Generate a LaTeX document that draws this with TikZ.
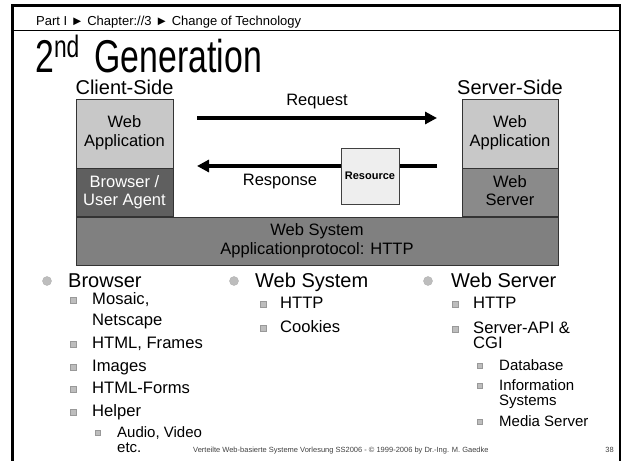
\documentclass[tikz,border=0pt]{standalone}
\usepackage{fontspec}
\setmainfont{Liberation Sans}
\usepackage{graphicx}
\usetikzlibrary{positioning,arrows.meta,backgrounds}

\begin{document}
\begin{tikzpicture}[x=1pt, y=1pt]
      \definecolor{applight}{HTML}{C8C8C8}
      \definecolor{agentdark}{HTML}{5F5F5F}
      \definecolor{servermid}{HTML}{8A8A8A}
      \definecolor{systemmid}{HTML}{808080}
      \definecolor{resourcelight}{HTML}{EEEEEE}
      \definecolor{bulletgray}{HTML}{BDBDBD}
      \definecolor{footgray}{HTML}{404040}

      \newcommand{\layername}[1]{\fontsize{16.5}{18.5}\selectfont \begin{tabular}{c}#1\end{tabular}}
      \newcommand{\itemlines}[1]{\vtop{\halign{##\hfil\cr#1\crcr}}}

      \tikzstyle{layer}     = [rectangle, draw=black!80, line width=0.6pt, inner sep=0pt, minimum width=97pt, minimum height=48pt]
      \tikzstyle{connector} = [line width=3.6pt, -{Triangle[length=12pt, width=12pt]}]
      \tikzstyle{side}      = [inner sep=0pt, font=\fontsize{20}{20}\selectfont]
      \tikzstyle{topic}     = [anchor=base west, inner sep=0pt, font=\fontsize{20}{20}\selectfont]
      \tikzstyle{entry}     = [anchor=base west, inner sep=0pt, font=\fontsize{16.6}{15}\selectfont]
      \tikzstyle{subentry}  = [anchor=base west, inner sep=0pt, font=\fontsize{15}{14.5}\selectfont]
      \tikzstyle{topicmark} = [circle, fill=bulletgray, draw=gray!60, line width=0.4pt, minimum size=9pt, inner sep=0pt]
      \tikzstyle{entrymark} = [rectangle, fill=bulletgray, draw=gray!80, line width=0.4pt, minimum width=6.5pt, minimum height=5.5pt, inner sep=0pt]
      \tikzstyle{submark}   = [entrymark, minimum width=5pt, minimum height=5pt]

      \useasboundingbox (0,0) rectangle (622,461);

      \draw [line width=2.6pt] (12.5,0) |- (620,455.5) -- (620,0);
      \draw [line width=0.9pt] (12.5,430.5) -- (620,430.5);

      \node [anchor=base west, inner sep=0pt, font=\fontsize{13}{13}\selectfont] (crumb) at (36,435) {Part I ► Chapter://3 ► Change of Technology};
      \node [anchor=base west, inner sep=0pt] (title) at (35,388) {\scalebox{0.735}[1]{\fontsize{46}{46}\selectfont 2\raisebox{15pt}{\fontsize{31}{31}\selectfont nd}\hspace{8pt} Generation}};

      \node [layer, fill=applight, minimum height=69pt]                      (clientapp) at (124.5,327.5) {\layername{Web\\Application}};
      \node [layer, fill=agentdark, text=white, below=0pt of clientapp]      (agent)     {\layername{Browser /\\User Agent}};
      \node [layer, fill=applight, minimum height=69pt, minimum width=96pt]  (serverapp) at (510,327.5) {\layername{Web\\Application}};
      \node [layer, fill=servermid, minimum width=96pt, below=0pt of serverapp] (webserver) {\layername{Web\\Server}};
      \node [layer, fill=systemmid, minimum width=482pt, anchor=north west]  (websystem) at (agent.south west) {\layername{Web System\\Applicationprotocol: HTTP}};

      \node [side, above=3.5pt of clientapp] (clientside) {Client-Side};
      \node [side, above=3.5pt of serverapp] (serverside) {Server-Side};

      \node [rectangle, draw=black!75, line width=0.6pt, fill=resourcelight, minimum width=58pt, minimum height=56pt, inner sep=0pt, font=\bfseries\fontsize{11}{11}\selectfont] (resource) at (370,285) {Resource};

      \coordinate (reqstart)  at (197,343);
      \coordinate (reqend)    at (437,343);
      \coordinate (respstart) at (437,295);
      \coordinate (respend)   at (197,295);

      \node [anchor=base, inner sep=0pt, font=\fontsize{16.5}{16.5}\selectfont] (reqlabel)  at (317,355) {Request};
      \node [anchor=base, inner sep=0pt, font=\fontsize{16.5}{16.5}\selectfont] (resplabel) at (280,275) {Response};

      \begin{scope}[on background layer]
        \draw [connector] (reqstart)  -- (reqend);
        \draw [connector] (respstart) -- (respend);
      \end{scope}

      \node [topicmark] (browsermark) at (47,180)  {};
      \node [topic]     (browser)     at (68,173)  {Browser};
      \node [entrymark] (mosaicmark)  at (73,161)  {};
      \node [entry, font=\fontsize{16.6}{20.5}\selectfont] (mosaic) at (92,156) {\itemlines{Mosaic,\cr Netscape}};
      \node [entrymark] (framesmark)  at (73,117)  {};
      \node [entry]     (frames)      at (92,112)  {HTML, Frames};
      \node [entrymark] (imagesmark)  at (73,94)   {};
      \node [entry]     (images)      at (92,89)   {Images};
      \node [entrymark] (formsmark)   at (73,72)   {};
      \node [entry]     (forms)       at (92,67)   {HTML-Forms};
      \node [entrymark] (helpermark)  at (73,49)   {};
      \node [entry]     (helper)      at (92,44)   {Helper};
      \node [submark]   (audiomark)   at (97.5,28) {};
      \node [subentry]  (audio)       at (117,23)  {\itemlines{Audio, Video\cr etc.}};

      \node [topicmark] (systemmark)  at (234,180) {};
      \node [topic]     (websys)      at (255,173) {Web System};
      \node [entrymark] (httpmark)    at (263,157) {};
      \node [entry]     (http)        at (280,152) {HTTP};
      \node [entrymark] (cookiesmark) at (263,133) {};
      \node [entry]     (cookies)     at (280,128) {Cookies};

      \node [topicmark] (servermark)  at (428,180) {};
      \node [topic]     (webserv)     at (451,173) {Web Server};
      \node [entrymark] (shttpmark)   at (455,157) {};
      \node [entry]     (shttp)       at (473,152) {HTTP};
      \node [entrymark] (apimark)     at (455,132) {};
      \node [entry]     (api)         at (473,127) {\itemlines{Server-API \&\cr CGI}};
      \node [submark]   (dbmark)      at (480,95)  {};
      \node [subentry]  (db)          at (499,90)  {Database};
      \node [submark]   (infomark)    at (480,75)  {};
      \node [subentry]  (info)        at (499,70)  {\itemlines{Information\cr Systems}};
      \node [submark]   (mediamark)   at (480,39)  {};
      \node [subentry]  (media)       at (499,34)  {Media Server};

      \node [anchor=base west, inner sep=0pt, font=\fontsize{7.5}{7.5}\selectfont, text=footgray] (footer) at (193,8) {Verteilte Web-basierte Systeme Vorlesung SS2006 - © 1999-2006 by Dr.-Ing. M. Gaedke};
      \node [anchor=base east, inner sep=0pt, font=\fontsize{7.5}{7.5}\selectfont, text=footgray] (pageno) at (614,8) {38};
    \end{tikzpicture}
\end{document}
